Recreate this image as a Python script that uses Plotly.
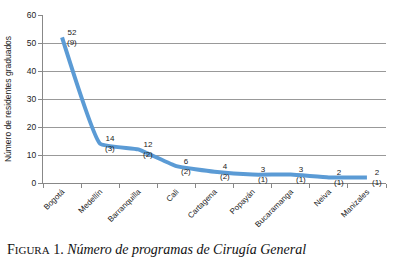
import plotly.graph_objects as go

cities = ["Bogotá", "Medellín", "Barranquilla", "Cali", "Cartagena", "Popayán", "Bucaramanga", "Neiva", "Manizales"]
residents = [52, 14, 12, 6, 4, 3, 3, 2, 2]
programs = [9, 3, 2, 2, 2, 1, 1, 1, 1]

fig = go.Figure()
fig.add_trace(go.Scatter(
    x=cities, y=residents, mode="lines",
    line=dict(color="#5B9BD5", width=4, shape="spline", smoothing=0.35),
    showlegend=False, hoverinfo="skip",
))

annotations = []
for c, r, p in zip(cities, residents, programs):
    annotations.append(dict(
        x=c, y=r, xref="x", yref="y", text=f"{r}<br>({p})", showarrow=False,
        xanchor="center", yanchor="middle", xshift=10, yshift=0,
        font=dict(family="Arial, Liberation Sans", size=8, color="#222"),
    ))

annotations.append(dict(
    xref="paper", yref="paper", x=-0.111, y=-0.393, xanchor="left", yanchor="middle",
    showarrow=False,
    text="F<span style='font-size:11px'>IGURA</span> 1. <i>Número de programas de Cirugía General</i>",
    font=dict(family="Liberation Serif, DejaVu Serif, serif", size=14, color="#111"),
))

fig.update_layout(
    width=397, height=260,
    margin=dict(l=43, r=11, t=15, b=77),
    paper_bgcolor="white", plot_bgcolor="white",
    font=dict(family="Arial, Liberation Sans", size=8, color="#222"),
    hovermode=False,
    xaxis=dict(
        type="category", tickangle=-45, tickson="boundaries",
        ticks="outside", ticklen=4, tickcolor="#888",
        showline=True, linecolor="#888", linewidth=1,
        showgrid=False, tickfont=dict(size=8), automargin=False,
        range=[-0.5, 8.5],
    ),
    yaxis=dict(
        range=[0, 60], dtick=10, showgrid=True, gridcolor="#999", gridwidth=1,
        showline=True, linecolor="#888", ticks="outside", ticklen=4, tickcolor="#888",
        tickfont=dict(size=8.5), automargin=False, zeroline=False,
        title=dict(text="Número de residentes graduados", font=dict(size=8.5), standoff=13),
    ),
    annotations=annotations,
)

fig.write_html("out.html", config={"displayModeBar": False},
               post_script="document.body.style.margin='0px';document.body.style.padding='0px';")
